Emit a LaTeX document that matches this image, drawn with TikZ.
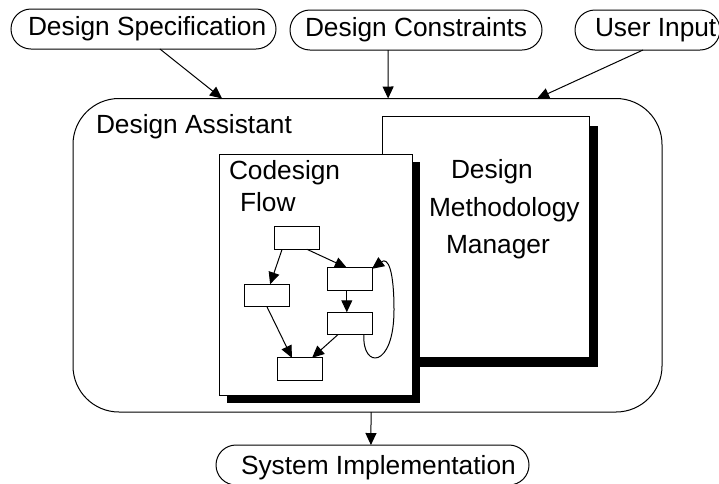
\documentclass[tikz,border=0pt]{standalone}
\usepackage{fontspec}
\setmainfont{Liberation Sans}
\usetikzlibrary{calc,arrows.meta,shadows}

\begin{document}
\begin{tikzpicture}[x=1pt,y=-1pt,
  every node/.style={inner sep=0pt, outer sep=0pt},
  lbl/.style={anchor=base west, font=\fontsize{26.3}{31}\selectfont},
  pill/.style={draw, line width=1pt, rounded corners=20pt, minimum height=40pt},
  page/.style={draw, fill=white, line width=1pt, minimum height=241pt},
  fbox/.style={draw, fill=white, line width=1pt, minimum width=45pt, minimum height=22.5pt},
  arr/.style={line width=1pt, -{Triangle[length=12pt,width=11pt]}},
]
\useasboundingbox (0,0) rectangle (719,483);

% inputs on top
\node[pill, minimum width=265pt] (spec) at (143.5,29) {};
\node[lbl] (specT) at (28,35.5) {Design Specification};
\node[pill, minimum width=252pt] (cons) at (416,30) {};
\node[lbl] (consT) at (305,36) {Design Constraints};
\node[pill, minimum width=145pt] (user) at (647.5,30) {};
\node[lbl] (userT) at (595,36) {User Input};

% the assistant frame
\node[draw, line width=1pt, rounded corners=46pt, minimum width=589pt,
      minimum height=313.5pt] (assist) at (367.5,255.25) {};
\node[lbl] (assistT) at (96,133) {Design Assistant};

% methodology manager page
\node[page, minimum width=207pt,
      drop shadow={shadow xshift=9pt, shadow yshift=-10pt, opacity=1, fill=black}]
      (mgr) at (485.5,236.5) {};
\node[lbl] (mgrA) at (451,178) {Design};
\node[lbl] (mgrB) at (429,216) {Methodology};
\node[lbl] (mgrC) at (446,253) {Manager};

% codesign flow page
\node[page, minimum width=193pt,
      drop shadow={shadow xshift=8pt, shadow yshift=-8pt, opacity=1, fill=black}]
      (flow) at (315.5,274.5) {};
\node[lbl] (flowA) at (229,179) {Codesign};
\node[lbl] (flowB) at (240,211) {Flow};

% small flow graph
\node[fbox] (fA) at (296.5,238) {};
\node[fbox] (fB) at (266.5,295.5) {};
\node[fbox] (fC) at (349.5,279) {};
\node[fbox] (fD) at (349.5,323.5) {};
\node[fbox] (fE) at (299.5,369) {};

\draw[arr] ($(fA.south west)!.18!(fA.south east)$) -- ($(fB.north west)!.58!(fB.north east)$);
\draw[arr] ($(fA.south west)!.73!(fA.south east)$) -- ($(fC.north west)!.44!(fC.north east)$);
\draw[arr] ($(fC.south west)!.44!(fC.south east)$) -- ($(fD.north west)!.44!(fD.north east)$);
\draw[arr] ($(fB.south west)!.51!(fB.south east)$) -- ($(fE.north west)!.33!(fE.north east)$);
\draw[arr] ($(fD.south west)!.24!(fD.south east)$) -- ($(fE.north west)!.78!(fE.north east)$);
\draw[arr] ($(fD.south west)!.82!(fD.south east)$)
  .. controls (362,369) and (394,369) .. (394,310)
  .. controls (394,270) and (388,257) .. ($(fC.north east)+(0,1)$);

% connectors from the inputs
\draw[arr] ($(spec.south west)!.562!(spec.south east)$) -- ($(assist.north west)!.253!(assist.north east)$);
\draw[arr] ($(cons.south west)!.389!(cons.south east)$) -- ($(assist.north west)!.535!(assist.north east)$);
\draw[arr] ($(user.south west)!.469!(user.south east)$) -- ($(assist.north west)!.788!(assist.north east)$);

% output
\node[pill, minimum width=313pt] (impl) at (372.5,465) {};
\node[lbl] (implT) at (241,474) {System Implementation};
\draw[arr] ($(assist.south west)!.506!(assist.south east)$) -- ($(impl.north west)!.495!(impl.north east)$);
\end{tikzpicture}
\end{document}
